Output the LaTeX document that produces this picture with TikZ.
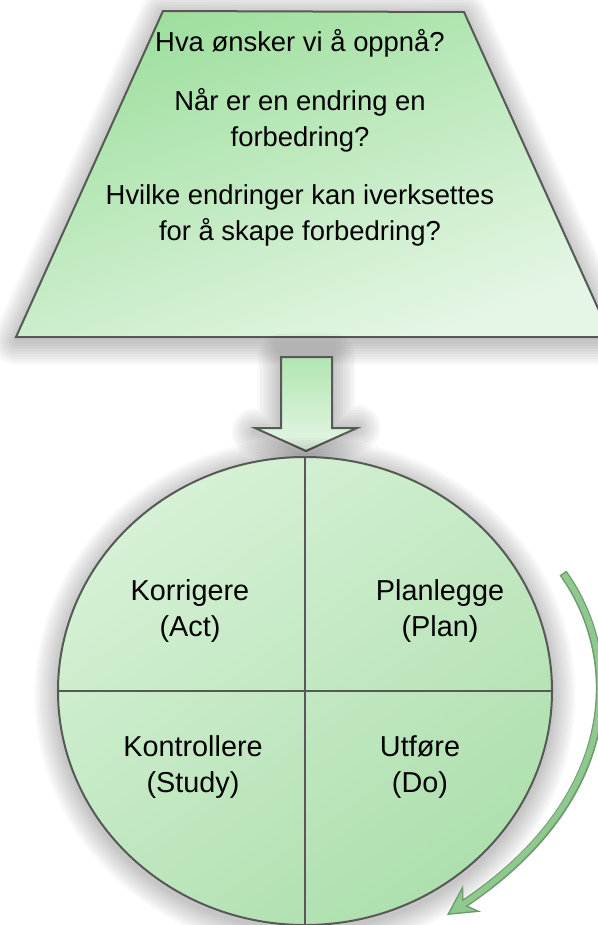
\documentclass[tikz,border=0pt]{standalone}
\usepackage{fontspec}
\setmainfont{Liberation Sans}
\usetikzlibrary{shapes.geometric,arrows.meta}

\definecolor{edgegray}{HTML}{555A55}
\definecolor{greenA}{HTML}{9EDF9E}
\definecolor{greenB}{HTML}{E6F6E6}
\definecolor{greenC}{HTML}{D6F1D6}
\definecolor{greenD}{HTML}{AEDFAE}
\definecolor{loopfill}{HTML}{8FC98F}
\definecolor{loopedge}{HTML}{6E9C6E}

\tikzset{
  shape edge/.style={draw=edgegray, line width=0.5mm},
  qtext/.style={align=center, font=\fontsize{20.5}{25}\selectfont},
}
% soft grey glow behind a shape
\newcommand\softglow[1]{%
  \foreach \w in {1,...,9}{\draw [black, opacity=0.028, line width=\w*1.3mm,
    line join=round, yshift=-1mm] #1;}}

\begin{document}
\begin{tikzpicture}[x=0.25mm, y=-0.25mm]
\useasboundingbox (0,0) rectangle (598,925);

% goals
\softglow{(163,11) -- (464,12) -- (611,337) -- (16,337) -- cycle}
\path [shape edge, top color=greenA, bottom color=greenB, shading angle=20]
  (163,11) -- (464,12) -- (611,337) -- (16,337) -- cycle;
\node (goals) [align=center, font=\fontsize{19.5}{25.6}\selectfont] at (300,138) {
  Hva ønsker vi å oppnå?\\[5.6mm]
  Når er en endring en\\
  forbedring?\\[5.6mm]
  Hvilke endringer kan iverksettes\\
  for å skape forbedring?
};

% block arrow down to the cycle
\coordinate (flow) at (306,357);
\softglow{(flow) ++(-25,0) -- ++(51,0) -- ++(0,71) -- ++(25,0) -- (306,451)
  -- (255,428) -- ++(26,0) -- cycle}
\path [shape edge, top color=greenA!80!white, bottom color=greenB]
  (flow) ++(-25,0) -- ++(51,0) -- ++(0,71) -- ++(25,0) -- (306,451)
  -- (255,428) -- ++(26,0) -- cycle;

% the PDSA cycle
\softglow{(305,691) ellipse [x radius=247, y radius=234]}
\node (cycle) [ellipse, shape edge, inner sep=0pt,
  minimum width=123.5mm, minimum height=117mm,
  top color=greenC, bottom color=greenD, shading angle=35] at (305,691) {};
\draw [shape edge] (cycle.north) -- (cycle.south);
\draw [shape edge] (cycle.west) -- (cycle.east);

\node (act) [qtext] at (190,611) {Korrigere\\(Act)};
\node (plan) [qtext] at (440,611) {Planlegge\\(Plan)};
\node (study) [qtext] at (193,767) {Kontrollere\\(Study)};
\node (do) [qtext] at (420,767) {Utføre\\(Do)};

% direction of the cycle
\coordinate (turn start) at (563,573);
\coordinate (turn end) at (447,915);
\draw [loopedge, line width=2.1mm,
  -{Stealth[length=7.5mm, width=8mm, inset=2.5mm, fill=loopfill, line width=0.35mm]}]
  (turn start) .. controls (625,660) and (620,800) .. (turn end);
\draw [loopfill, line width=1.4mm, shorten <=0.35mm, shorten >=4mm]
  (turn start) .. controls (625,660) and (620,800) .. (turn end);
\end{tikzpicture}
\end{document}
